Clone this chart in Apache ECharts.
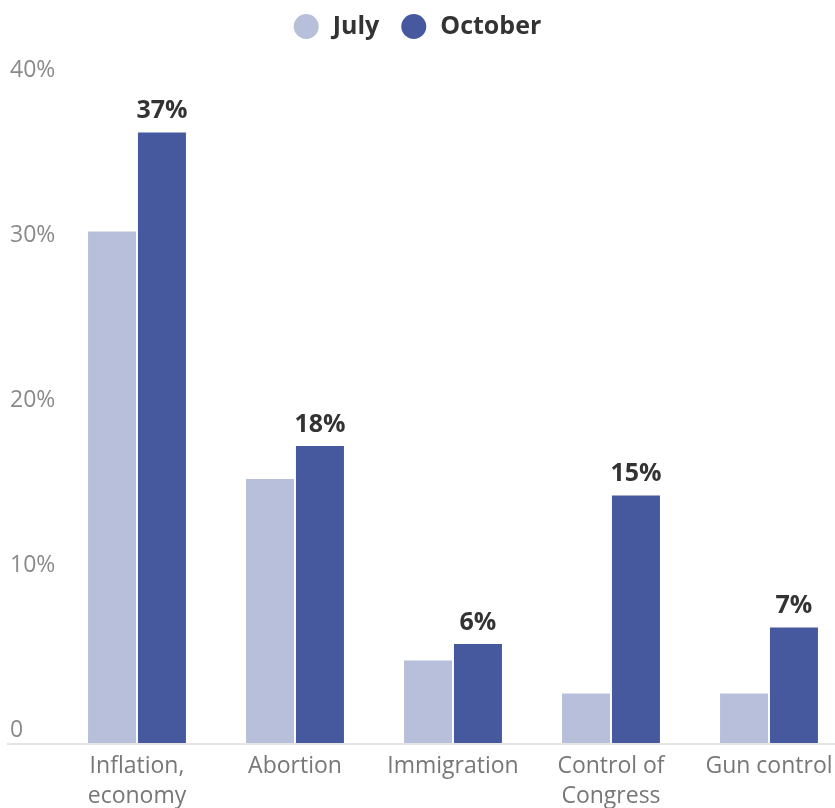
<!DOCTYPE html>
<html><head><meta charset="utf-8">
<script src="https://cdn.jsdelivr.net/npm/echarts@6/dist/echarts.min.js"></script>
<style>html,body{margin:0;padding:0;background:#fff}#c{width:835px;height:808px}</style>
</head><body><div id="c"></div>
<script>
const categories = ['Inflation,\neconomy', 'Abortion', 'Immigration', 'Control of\nCongress', 'Gun control'];
const julyValues = [31, 16, 5, 3, 3];
const octoberValues = [37, 18, 6, 15, 7];
const yTicks = [0, 10, 20, 30, 40];
const seriesNames = ['July', 'October'];

const chart = echarts.init(document.getElementById('c'));
const FONT = '"Open Sans", Lato, sans-serif';
chart.setOption({
  animation: false,
  textStyle: { fontFamily: FONT },
  legend: {
    top: 9, left: 'center', icon: 'circle', itemWidth: 25, itemHeight: 25, itemGap: 22,
    textStyle: { fontSize: 25, fontWeight: 'bold', color: '#333', fontFamily: FONT, padding: [0, 0, 0, 9] },
    data: seriesNames
  },
  grid: { left: 58, width: 790, top: 83, height: 660, containLabel: false, outerBoundsMode: 'none' },
  xAxis: {
    type: 'category', data: categories,
    axisLine: { show: false }, axisTick: { show: false },
    axisLabel: { color: '#777', fontSize: 23, lineHeight: 30, margin: 8, interval: 0, fontFamily: FONT }
  },
  yAxis: {
    type: 'value', min: yTicks[0], max: yTicks[yTicks.length - 1], interval: 10,
    splitLine: { show: false }, axisLine: { show: false }, axisTick: { show: false },
    axisLabel: {
      color: '#8a8a8a', fontSize: 23, align: 'left', margin: 48, verticalAlign: 'bottom',
      lineHeight: 22, padding: [0, 0, 2, 0], fontFamily: FONT,
      formatter: v => v === 0 ? '0' : v + '%'
    }
  },
  series: [
    { name: seriesNames[0], type: 'bar', data: julyValues, barWidth: 48, barGap: '4%',
      itemStyle: { color: '#b7bfda' } },
    { name: seriesNames[1], type: 'bar', data: octoberValues, barWidth: 48,
      itemStyle: { color: '#46599f' },
      label: { show: true, position: 'top', distance: 9, formatter: '{c}%',
        fontSize: 25, fontWeight: 'bold', color: '#333', fontFamily: FONT } }
  ]
});
const y0 = chart.convertToPixel({ yAxisIndex: 0 }, 0);
chart.setOption({
  graphic: [{ type: 'line', shape: { x1: 7, y1: y0 + 1, x2: 835, y2: y0 + 1 },
    style: { stroke: '#e5e5e5', lineWidth: 2 }, z: 0 }]
});
</script></body></html>
